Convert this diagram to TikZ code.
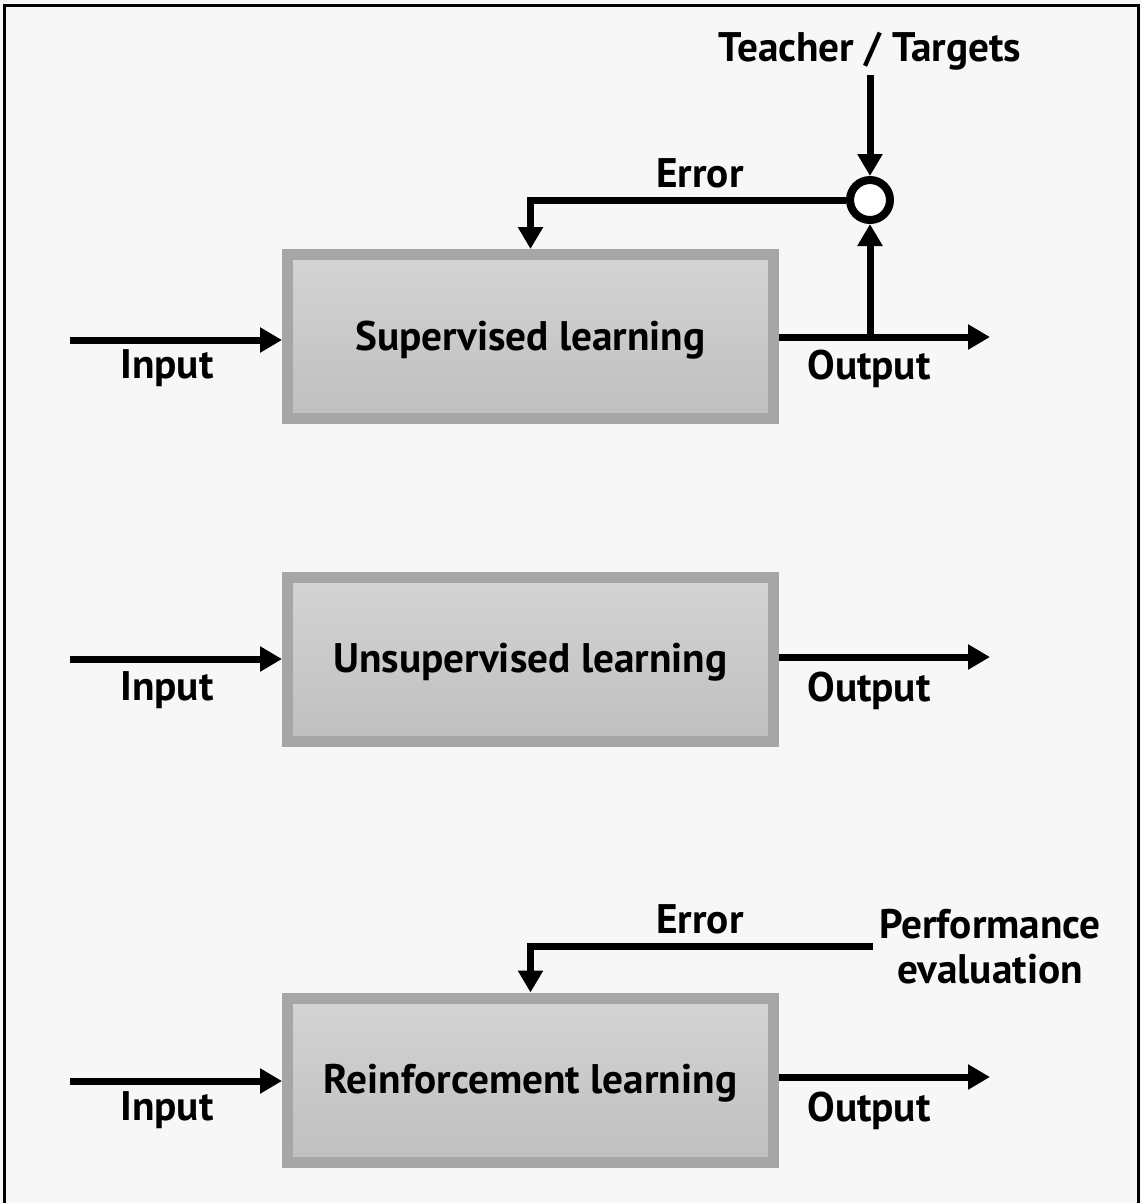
\documentclass[tikz,border=0pt]{standalone}
\usepackage{fontspec}
\setmainfont{PT Sans}
\usetikzlibrary{arrows.meta}
\definecolor{bgPage}{rgb}{0.97,0.97,0.97}
\definecolor{boxRim}{rgb}{0.65,0.65,0.65}
\definecolor{boxTop}{rgb}{0.83,0.83,0.83}
\definecolor{boxBot}{rgb}{0.75,0.75,0.75}

\begin{document}
\begin{tikzpicture}[font=\fontsize{23.5}{25.6}\selectfont\bfseries]
 \tikzset{
  learnBox/.style={rectangle, draw=boxRim, line width=0.22cm, top color=boxTop, bottom color=boxBot, minimum width=9.72cm, minimum height=3.28cm, text depth=0.05cm},
  sigLine/.style={line width=0.14cm, -{Triangle[length=0.44cm,width=0.48cm]}},
  sumNode/.style={circle, draw, fill=white, line width=0.16cm, minimum size=0.8cm, inner sep=0pt}
  }
  % page and frame
  \useasboundingbox (0,0) rectangle (22.82,-24.06);
  \fill[bgPage] (0,0) rectangle (22.82,-24.06);
  \draw[line width=0.06cm] (0.09,-24.06) -- (0.09,-0.1) -- (22.77,-0.1) -- (22.77,-24.06);

  % the three learners
  \node[learnBox] (sup) at (10.61,-6.73) {Supervised learning};
  \node[learnBox] (unsup) at (10.61,-13.19) {Unsupervised learning};
  \node[learnBox] (reinf) at (10.61,-21.6) {Reinforcement learning};

  % comparator and feedback texts
  \node[sumNode] (cmp) at (17.4,-4.0) {};
  \node[inner ysep=0.09cm] (teacher) at (17.4,-1.02) {Teacher / Targets};
  \node (errA) at (14.0,-3.46) {Error};
  \node (errC) at (14.0,-18.38) {Error};
  \node[align=center] (perf) at (19.8,-18.93) {Performance\\evaluation};

  % free ends of input and output lines
  \coordinate (in1) at (1.4,-6.8);
  \coordinate (out1) at (19.8,-6.74);
  \coordinate (in2) at (1.4,-13.18);
  \coordinate (out2) at (19.8,-13.14);
  \coordinate (in3) at (1.4,-21.62);
  \coordinate (out3) at (19.8,-21.54);

  % labels under the lines
  \node (inA) at (3.34,-7.37) {Input};
  \node (outA) at (17.38,-7.37) {Output};
  \node (inB) at (3.34,-13.81) {Input};
  \node (outB) at (17.38,-13.81) {Output};
  \node (inC) at (3.34,-22.21) {Input};
  \node (outC) at (17.38,-22.21) {Output};

  % supervised
  \draw[sigLine] (in1) -- (in1 -| sup.west);
  \draw[sigLine] (sup.east |- out1) -- (out1);
  \draw[sigLine] (cmp |- out1) -- (cmp.south);
  \draw[sigLine] (teacher.south) -- (cmp.north);
  \draw[sigLine] (cmp.west) -| (sup.north);

  % unsupervised
  \draw[sigLine] (in2) -- (in2 -| unsup.west);
  \draw[sigLine] (unsup.east |- out2) -- (out2);

  % reinforcement
  \draw[sigLine] (in3) -- (in3 -| reinf.west);
  \draw[sigLine] (reinf.east |- out3) -- (out3);
  \draw[sigLine] (perf.west) -| (reinf.north);
\end{tikzpicture}
\end{document}
